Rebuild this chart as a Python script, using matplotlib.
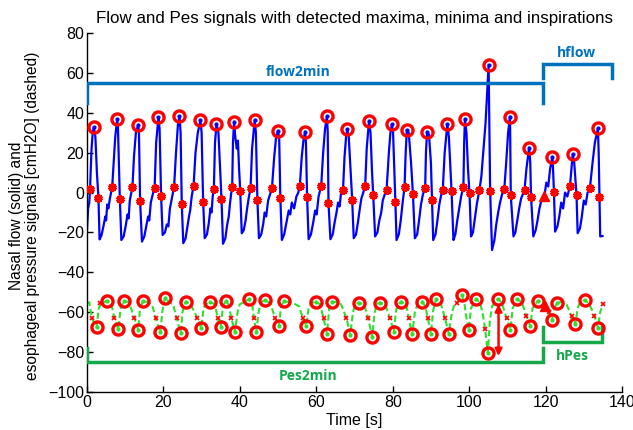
import matplotlib
matplotlib.use("Agg")
import matplotlib.pyplot as plt

# ---------------- data ----------------
flow_t = [0.0, 0.3, 0.6, 0.8, 1.2, 1.5, 1.8, 2.2, 2.6, 3.0, 3.3,
          3.8, 4.3, 4.8, 5.0, 5.3, 5.6, 6.0, 6.3, 6.6, 7.0, 7.4, 7.9, 8.1, 8.6, 9.0,
          9.6, 10.2, 10.6, 10.9, 11.2, 11.6, 11.9, 12.3, 12.8, 13.4, 13.6, 13.9, 14.4,
          15.0, 15.5, 16.0, 16.3, 16.7, 17.2, 17.7, 18.1, 18.7, 19.0, 19.4, 19.8,
          20.4, 20.9, 21.3, 21.7, 22.2, 22.8, 23.3, 23.8, 24.2, 24.5, 24.8, 25.2,
          25.8, 26.3, 26.7, 27.0, 27.4, 27.9, 28.4, 29.0, 29.7, 30.0, 30.4, 30.8,
          31.4, 31.9, 32.3, 32.6, 32.9, 33.2, 33.5, 33.9, 34.4, 34.9, 35.2, 35.6,
          36.2, 36.7, 37.1, 37.4, 37.7, 38.0, 38.2, 38.5, 38.8, 39.2, 39.5, 39.8, 40.1, 40.5,
          41.0, 41.5, 41.9, 42.3, 42.8, 43.2, 43.9, 44.2, 44.6, 45.0,
          45.6, 46.1, 46.5, 46.9, 47.4, 47.9, 48.4, 49.0, 49.5, 50.0, 50.3, 50.6, 51.0,
          51.6, 52.2, 52.8, 53.2, 53.6, 54.2, 54.8, 55.3, 55.7, 56.2, 56.7, 57.1, 57.3, 57.6, 58.0,
          58.6, 59.2, 59.7, 60.1, 60.6, 61.3, 61.8, 62.3, 62.8, 63.0, 63.2, 63.7,
          64.3, 64.8, 65.3, 65.7, 66.1, 66.5, 67.0, 67.4, 67.8, 68.1, 68.5, 69.0, 69.4, 69.8,
          70.4, 70.9, 71.4, 71.8, 72.3, 72.8, 73.2, 73.8, 74.2, 74.6, 74.9, 75.4,
          76.0, 76.5, 77.0, 77.4, 77.9, 78.4, 79.0, 79.4, 79.8, 80.1, 80.7, 81.0,
          81.6, 82.1, 82.6, 83.1, 83.4, 83.7, 84.2, 84.8, 85.3, 85.8,
          86.4, 86.9, 87.4, 87.9, 88.5, 88.7, 89.0, 89.5, 90.0, 90.3, 90.6,
          91.2, 91.7, 92.2, 92.6, 93.1, 93.6, 94.3, 94.7, 95.1, 95.4, 95.9,
          96.4, 96.9, 97.4, 97.9, 98.5, 98.7, 98.9, 99.3, 99.7, 100.1, 100.5,
          101.0, 101.5, 102.0, 102.7, 103.2, 103.7, 104.3, 104.7, 105.1, 105.5, 106.0,
          106.6, 107.1, 107.6, 108.1, 108.6, 109.2, 109.7, 110.2, 110.7, 110.9, 111.6,
          112.1, 112.6, 113.1, 113.6, 114.5, 115.0, 115.7, 116.0, 116.2, 116.8,
          117.4, 117.9, 118.4, 118.9, 119.7, 120.2, 120.7, 121.2, 121.8, 122.0, 122.2, 122.5,
          123.1, 123.6, 124.1, 124.6, 125.1, 125.7, 126.4, 127.1, 127.5, 128.1, 128.4,
          129.0, 129.5, 130.0, 130.5, 131.0, 131.6, 132.3, 132.9, 133.7, 133.9, 134.1, 134.3, 134.9]
flow_v = [-19, -8, -5, 1.8, 22, 30, 32.7, 28, 10, -2.7, -23.5,
          -21.5, -17, -12, -14, -6, -8, -3, 0, 2.8, 15, 28, 36.7, 33, -3.2, -23.8,
          -22, -16, -11, -13, -4, 0, 2.8, 18, 30, 34.0, 30, -4.4, -24.6,
          -22, -17, -12, -14, -5, -1, 2.3, 25, 37.7, 32, -1.9, -21.3,
          -20, -16, -17, -8, -3, 3.0, 20, 34, 38.4, 30, -5.5, -25.4,
          -23, -17, -12, -9, -2, 3.5, 20, 30, 36.2, 30, -4.7, -22.9,
          -21, -15, -8, -10, -2, 1.8, 25, 34.4, 30, 10, -3.0, -25.7,
          -23, -16, -12, -6, -1, 2.8, 25, 35.5, 28, 22, 26, 12, 1.0, -20.4,
          -19, -14, -8, -3, 2.1, 22, 36.4, 30, -3.9, -22.9,
          -21, -16, -10, -12, -4, -1, 2.1, 18, 28, 31.0, 27, -2.9, -23.8,
          -21, -15, -9, -11, -5, -8, -2, 0, 3.4, 18, 27, 30.5, 25, -2.4, -23.4,
          -21, -15, -9, -11, -2, 3.4, 20, 32, 38.4, 30, -5.0, -23.4,
          -21, -15, -10, -5, -7, 0, 1.4, 18, 28, 31.7, 28, 10, -3.7, -22.9,
          -21, -15, -8, -3, 0, 3.3, 22, 35.9, 30, 10, -1.2, -22.0,
          -20, -14, -10, -4, -1, 1.3, 20, 30, 34.2, 30, -4.5, -23.8,
          -21, -14, -5, 2.8, 20, 31.4, 30, 15, -0.9, -22.9,
          -21, -14, -6, -1, 2.5, 20, 30.5, 29, 15, -3.9, -23.8,
          -21, -14, -6, -2, 1.3, 20, 34.2, 28, 12, 0.6, -23.8,
          -21, -14, -8, -2, 2.7, 25, 36.7, 30, 12, -0.4, -22.0,
          -20, -13, -6, 1.3, 8, 20, 35, 50, 64.0, 0.6, -28.8,
          -24, -16, -10, -5, -1, 1.6, 15, 30, 38.1, -1.4, -22.0,
          -20, -14, -8, -3, 1.3, 12, 22.5, 15, -2.0, -22.0,
          -19, -14, -8, -4, -1.7, 5, 3, 12, 18.0, 10, 0.1, -19.6,
          -17, -12, -5, -8, 0, -2, 3.5, 19.2, 15, -1.2, -20.4,
          -18, -12, -4, -6, 0, 2.1, 15, 25, 32.2, 20, -2.0, -22.0, -21.8]

flow_max_t = [1.8, 7.9, 13.4, 18.7, 24.2, 29.7, 33.8, 38.5, 43.9, 50.0, 57.1, 62.8, 68.1,
              73.8, 79.8, 83.7, 89.0, 94.3, 98.9, 105.1, 110.7, 115.7, 121.8, 127.1, 133.7]
flow_max_v = [32.7, 36.7, 34.0, 37.7, 38.4, 36.2, 34.4, 35.5, 36.4, 31.0, 30.5, 38.4, 31.7,
              35.9, 34.2, 31.4, 30.5, 34.2, 36.7, 64.0, 38.1, 22.5, 18.0, 19.2, 32.2]

flow_insp_t = [0.8, 3.0, 6.6, 8.6, 11.9, 13.9, 17.7, 19.4, 22.8, 24.8, 27.9, 30.4, 33.2, 35.2,
               38.0, 40.1, 42.8, 44.6, 48.4, 50.6, 55.7, 57.6, 61.3, 63.2, 67.0, 69.4, 72.8, 74.9,
               78.4, 80.7, 83.1, 85.3, 88.5, 90.3, 93.1, 95.4, 98.5, 100.1, 102.7, 105.5,
               109.2, 110.9, 114.5, 116.2, 122.2, 126.4, 128.1, 131.6, 134.1]
flow_insp_v = [1.8, -2.7, 2.8, -3.2, 2.8, -4.4, 2.3, -1.9, 3.0, -5.5, 3.5, -4.7, 1.8, -3.0,
               2.8, 1.0, 2.1, -3.9, 2.1, -2.9, 3.4, -2.4, 3.4, -5.0, 1.4, -3.7, 3.3, -1.2,
               1.3, -4.5, 2.8, -0.9, 2.5, -3.9, 1.3, 0.6, 2.7, -0.4, 1.3, 0.6,
               1.6, -1.4, 1.3, -2.0, 0.1, 3.5, -1.2, 2.1, -2.0]

pes_t = [0.0, 0.6, 1.3, 2.5, 3.1, 3.6, 5.15, 6.3, 7.2, 8.2, 8.8, 9.7, 11.0, 12.4, 13.4, 13.9,
         14.7, 16.0, 17.0, 18.0, 19.2, 19.7, 20.4, 21.5, 22.5, 23.5, 24.5, 25.0, 25.8, 27.0,
         28.9, 29.9, 30.5, 31.0, 32.3, 33.5, 34.2, 35.0, 35.6, 36.3, 37.0, 37.8, 38.7, 39.4,
         40.0, 41.0, 42.4, 43.3, 43.7, 44.3, 44.9, 45.5, 46.6, 48.0, 49.2, 50.2, 50.8, 51.5,
         53.0, 54.5, 55.5, 56.5, 57.4, 58.0, 58.6, 59.8, 61.0, 61.9, 62.8, 63.4, 64.0, 65.5,
         66.5, 67.9, 68.9, 69.6, 70.2, 71.1, 72.5, 73.6, 74.6, 75.3, 75.8, 76.6, 78.0, 79.3,
         80.3, 80.9, 81.4, 82.2, 83.5, 84.2, 85.1, 85.8, 86.5, 87.7, 88.5, 89.2, 90.0, 90.6,
         91.4, 92.5, 93.7, 94.7, 95.5, 96.2, 96.8, 98.1, 98.8, 99.2, 99.9, 100.5, 101.8,
         102.8, 103.5, 104.2, 104.9, 105.4, 106.0, 107.5, 108.5, 109.8, 110.8, 111.4, 112.5,
         113.8, 115.0, 116.0, 116.6, 118.0, 119.0, 119.8, 120.8, 121.7, 122.3, 123.0, 124.5,
         125.5, 126.8, 127.8, 128.4, 129.0, 130.2, 131.5, 132.8, 133.7, 134.3, 135.0]
pes_v = [-55.5, -55, -63, -67.6, -58, -56, -54.2, -55.5, -63, -68.6, -58, -54.2, -55, -63, -68.9, -58,
         -54.4, -55, -56, -63, -70.1, -60, -52.7, -55, -56, -63, -70.3, -60, -54.7, -55.5,
         -63, -68.1, -58, -56, -55.0, -56, -63, -67.2, -57, -54.4, -56, -63, -69.9, -60,
         -56, -55, -53.5, -57, -63, -70.1, -60, -55, -54.0, -55.5, -63, -67.1, -57, -54.4,
         -55, -56, -57, -63, -66.8, -58, -55.5, -54.7, -56, -63, -70.8, -58, -54.7, -55,
         -56, -63, -71.3, -60, -56, -55.2, -56, -63, -72.3, -60, -56, -55.2, -56, -63,
         -69.7, -59, -56, -54.7, -56, -63, -71.1, -60, -56, -54.7, -57, -63, -70.9, -59,
         -53.4, -55, -63, -70.9, -60, -56, -55.5, -51.5, -56, -62, -68.9, -58, -53.4,
         -55, -60, -68.6, -80.3, -65, -57, -53.4, -55, -63, -68.7, -58, -53.4,
         -55, -62, -66.9, -58, -54.2, -55, -56.8, -60, -63.7, -58, -55.5, -54.5,
         -56, -62, -65.9, -58, -55, -53.9, -56, -62, -67.7, -60, -56]

pes_max_t = [5.15, 9.7, 14.7, 20.4, 25.8, 32.3, 36.3, 42.4, 46.6, 51.5, 59.8, 64.0, 71.1, 76.6,
             82.2, 87.7, 91.4, 98.1, 101.8, 107.5, 112.5, 118.0, 123.0, 130.2]
pes_max_v = [-54.2, -54.2, -54.4, -52.7, -54.7, -55.0, -54.4, -53.5, -54.0, -54.4, -54.7, -54.7,
             -55.2, -55.2, -54.7, -54.7, -53.4, -51.5, -53.4, -53.4, -53.4, -54.2, -55.5, -53.9]
pes_min_t = [2.5, 8.2, 13.4, 19.2, 24.5, 29.9, 35.0, 38.7, 44.3, 50.2, 57.4, 62.8, 68.9, 74.6,
             80.3, 85.1, 90.0, 94.7, 99.9, 104.9, 110.8, 116.0, 121.7, 127.8, 133.7]
pes_min_v = [-67.6, -68.6, -68.9, -70.1, -70.3, -68.1, -67.2, -69.9, -70.1, -67.1, -66.8, -70.8,
             -71.3, -72.3, -69.7, -71.1, -70.9, -70.9, -68.9, -80.3, -68.7, -66.9, -63.7, -65.9, -67.7]
pes_insp_t = [1.3, 3.4, 7.2, 12.4, 18.0, 23.5, 28.9, 34.2, 37.8, 43.7, 49.2, 56.5, 61.9, 67.9,
              73.6, 79.3, 84.2, 89.2, 93.7, 96.8, 104.2, 109.8, 115.0, 120.8, 126.8, 132.8, 135.0]
pes_insp_v = [-63, -55.5, -63, -63, -63, -63, -63, -63, -63, -63, -63, -63, -63, -63,
              -63, -63, -63, -63, -63, -55.5, -68.6, -63, -62, -60, -62, -62, -56]

tri_t = [119.7, 119.8]
tri_v = [-1.7, -56.8]

arrow_t = 107.7
arrow_from, arrow_to = -56.0, -82.0

blue_b = '#0072BD'
green_b = '#14A84B'

# ---------------- figure ----------------
plt.rcParams['font.family'] = ['Liberation Sans', 'DejaVu Sans']
fig = plt.figure(figsize=(6.33, 4.30), dpi=100)
ax = fig.add_axes([0.1374, 0.0884, 0.8452, 0.8349])

ax.plot(flow_t, flow_v, color='#0000FF', lw=1.6, zorder=2)
ax.plot(pes_t, pes_v, color='#2EE02E', lw=1.5, ls=(0, (3, 1.5)), zorder=2)

# flow markers
ax.plot(flow_max_t, flow_max_v, 'o', ms=8, mfc='none', mec='#FF0000', mew=2.4, zorder=4)
ax.plot(flow_max_t, flow_max_v, '.', ms=4, color='#0000FF', zorder=5)
ax.plot(flow_insp_t, flow_insp_v, ls='none', marker=(6, 2, 0), ms=6, mec='#FF0000', mew=2.3, zorder=4)

# pes markers
ax.plot(pes_max_t, pes_max_v, 'o', ms=8, mfc='none', mec='#FF0000', mew=2.4, zorder=4)
ax.plot(pes_min_t, pes_min_v, 'o', ms=8, mfc='none', mec='#FF0000', mew=2.4, zorder=4)
ax.plot(pes_max_t + pes_min_t, pes_max_v + pes_min_v, '.', ms=4, color='#2EE02E', zorder=5)
ax.plot(pes_insp_t, pes_insp_v, 'x', ms=2.5, mec='#FF0000', mew=1.2, zorder=4)

ax.plot(tri_t, tri_v, '^', ms=7, color='#FF0000', zorder=4)

# double arrow
ax.annotate('', xy=(arrow_t, arrow_to), xytext=(arrow_t, arrow_from),
            arrowprops=dict(arrowstyle='<|-|>', color='#FF0000', lw=1.8,
                            mutation_scale=10, shrinkA=0, shrinkB=0), zorder=6)

# brackets
ax.plot([0.1, 0.1, 119.3, 119.3], [45, 54.8, 54.8, 45], color=blue_b, lw=2.5, solid_joinstyle='miter', zorder=3)
ax.plot([119.3, 119.3, 137.3, 137.3], [57.3, 64.5, 64.5, 57.3], color=blue_b, lw=2.5, solid_joinstyle='miter', zorder=3)
ax.plot([0.1, 0.1, 119.3, 119.3], [-78.1, -84.8, -84.8, -78.1], color=green_b, lw=2.5, solid_joinstyle='miter', zorder=3)
ax.plot([119.3, 119.3, 134.9, 134.9], [-67.6, -74.8, -74.8, -67.6], color=green_b, lw=2.5, solid_joinstyle='miter', zorder=3)

ann_kw = dict(fontsize=10, fontweight='bold', ha='center', va='center', family=['Open Sans', 'DejaVu Sans'])
ax.text(55.3, 60.3, 'flow2min', color=blue_b, **ann_kw)
ax.text(128.2, 69.8, 'hflow', color=blue_b, **ann_kw)
ax.text(57.9, -92.0, 'Pes2min', color=green_b, **ann_kw)
ax.text(127.0, -82.0, 'hPes', color=green_b, **ann_kw)

ax.set_xlim(0, 140)
ax.set_ylim(-100, 80)
ax.set_xticks(range(0, 141, 20))
ax.set_yticks(range(-100, 81, 20))
ax.tick_params(direction='in', length=4, width=1, labelsize=11.5, pad=2)
for s in ['top', 'right']:
    ax.spines[s].set_visible(False)
for s in ['left', 'bottom']:
    ax.spines[s].set_linewidth(1.0)

ax.set_xlabel('Time [s]', fontsize=11.5, labelpad=2)
ax.set_ylabel('Nasal flow (solid) and\nesophageal pressure signals [cmH2O] (dashed)',
              fontsize=11.2, linespacing=1.1)
ax.yaxis.set_label_coords(-0.088, 0.49)
ax.set_title('Flow and Pes signals with detected maxima, minima and inspirations',
             fontsize=12.2, pad=7)

fig.savefig('out.png', dpi=100)
